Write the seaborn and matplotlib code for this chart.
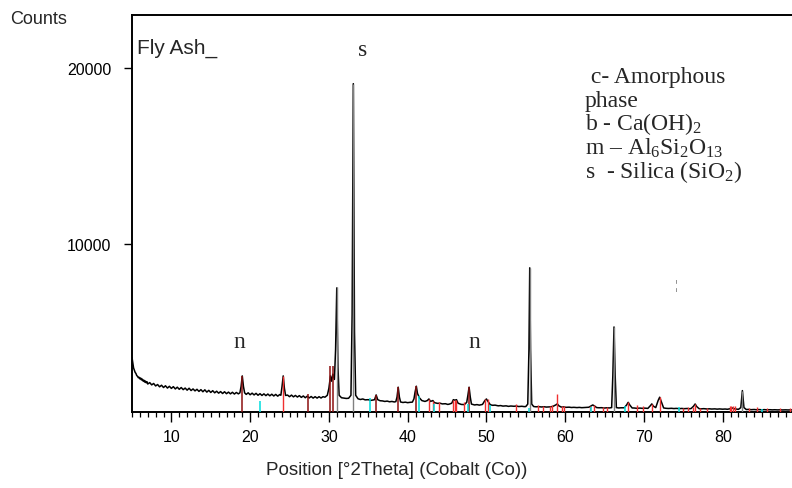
import matplotlib
matplotlib.use("Agg")
import matplotlib.pyplot as plt
import seaborn as sns
from matplotlib.ticker import MultipleLocator, FixedLocator

# ---------------- data ----------------
scan_2theta = [
    5.00, 5.10, 5.20, 5.30, 5.40, 5.50, 5.60, 5.70, 5.80, 5.90, 6.00, 6.10, 6.20, 6.30, 6.40,
    6.50, 6.60, 6.70, 6.80, 6.90,
    7.00, 7.25, 7.50, 7.75, 8.00, 8.25, 8.50, 8.75, 9.00, 9.25, 9.50, 9.75, 10.00, 10.25,
    10.50, 10.75, 11.00, 11.25, 11.50, 11.75, 12.00, 12.25, 12.50, 12.75, 13.00, 13.25,
    13.50, 13.75, 14.00, 14.25, 14.50, 14.75, 15.00, 15.25, 15.50, 15.75, 16.00, 16.25,
    16.50, 16.75, 17.00, 17.25, 17.50, 17.75, 18.00, 18.25, 18.50, 18.70, 18.85, 19.00,
    19.15, 19.30, 19.50, 19.75, 20.00, 20.25, 20.50, 20.75, 21.00, 21.25, 21.50, 21.75,
    22.00, 22.25, 22.50, 22.75, 23.00, 23.25, 23.50, 23.75, 23.90, 24.05, 24.20, 24.35,
    24.50, 24.75, 25.00, 25.25, 25.50, 25.75, 26.00, 26.25, 26.50, 26.75, 27.00, 27.25,
    27.50, 27.75, 28.00, 28.25, 28.50, 28.75, 29.00, 29.25, 29.50, 29.80, 30.00, 30.20,
    30.35, 30.50, 30.70, 30.85, 31.00, 31.15, 31.30, 31.60, 31.90, 32.20, 32.50, 32.80,
    32.95, 33.10, 33.25, 33.40, 33.70, 34.00, 34.30, 34.60, 35.00, 35.30, 35.60, 35.80,
    36.00, 36.20, 36.50, 36.80, 37.10, 37.40, 37.70, 38.00, 38.30, 38.50, 38.65, 38.80,
    38.95, 39.10, 39.40, 39.70, 40.00, 40.30, 40.60, 40.80, 40.95, 41.10, 41.25, 41.50,
    41.80, 42.20, 42.50, 42.70, 42.90, 43.20, 43.40, 43.80, 44.10, 44.40, 44.80, 45.10,
    45.30, 45.60, 45.80, 46.00, 46.20, 46.40, 46.80, 47.20, 47.50, 47.65, 47.80, 47.95,
    48.10, 48.50, 48.80, 49.10, 49.50, 49.80, 50.00, 50.20, 50.50, 50.80, 51.10, 51.50,
    51.80, 52.10, 52.50, 52.80, 53.10, 53.50, 53.80, 54.10, 54.50, 54.80, 55.00, 55.25,
    55.40, 55.50, 55.60, 55.75, 56.00, 56.30, 56.60, 57.00, 57.30, 57.60, 58.00, 58.40,
    58.80, 59.00, 59.20, 59.50, 59.80, 60.10, 60.50, 60.80, 61.10, 61.50, 61.80, 62.10,
    62.50, 63.00, 63.30, 63.50, 63.70, 64.00, 64.30, 64.60, 65.00, 65.30, 65.60, 65.90,
    66.05, 66.20, 66.35, 66.50, 66.80, 67.10, 67.50, 67.80, 68.00, 68.20, 68.50, 68.80,
    69.10, 69.50, 69.80, 70.10, 70.50, 70.80, 71.00, 71.20, 71.50, 71.80, 72.00, 72.20,
    72.50, 72.80, 73.10, 73.50, 73.80, 74.10, 74.50, 74.80, 75.10, 75.50, 75.80, 76.00,
    76.30, 76.50, 76.70, 77.00, 77.30, 77.60, 78.00, 78.30, 78.60, 79.00, 79.30, 79.60,
    80.00, 80.30, 80.60, 81.00, 81.20, 81.50, 82.00, 82.30, 82.50, 82.70, 83.00, 83.30,
    83.60, 84.00, 84.30, 84.60, 85.00, 85.30, 85.60, 86.00, 86.30, 86.60, 87.00, 87.30,
    87.60, 88.00, 88.30, 88.60, 89.00,
]
scan_counts = [
    3550, 3250, 2950, 2820, 2700, 2640, 2520, 2480, 2400, 2420, 2330, 2380, 2270, 2320, 2210,
    2260, 2150, 2210, 2110, 2170,
    2040, 2120, 1990, 2070, 1930, 2010, 1880, 1970, 1840, 1940, 1810, 1910, 1790, 1890,
    1760, 1860, 1740, 1840, 1720, 1810, 1690, 1800, 1670, 1760, 1650, 1740,
    1620, 1720, 1600, 1710, 1580, 1680, 1560, 1660, 1540, 1630, 1520, 1610,
    1500, 1600, 1490, 1580, 1480, 1570, 1470, 1560, 1480, 1540, 1900, 2500,
    1900, 1540, 1450, 1540, 1430, 1520, 1420, 1510, 1400, 1490, 1390, 1480,
    1380, 1470, 1370, 1460, 1360, 1450, 1350, 1440, 1400, 1900, 2500, 1800,
    1390, 1410, 1320, 1410, 1310, 1390, 1300, 1380, 1280, 1360, 1260, 1350,
    1250, 1330, 1240, 1320, 1240, 1320, 1245, 1320, 1290, 1400, 1800, 2500,
    2200, 2600, 2300, 4000, 7500, 3000, 1400, 1260, 1240, 1220, 1230, 1400,
    6000, 19100, 5000, 1400, 1200, 1160, 1190, 1140, 1150, 1110, 1130, 1150,
    1420, 1150, 1090, 1080, 1050, 1070, 1030, 1050, 1020, 1040, 1300, 1860,
    1300, 1020, 990, 1010, 980, 1000, 1010, 1200, 1600, 1915, 1500, 1250,
    1100, 1050, 1100, 1190, 1050, 1100, 980, 940, 950, 910, 920, 880,
    900, 950, 1150, 1120, 1150, 950, 880, 870, 1000, 1400, 1860, 1300,
    900, 850, 870, 840, 880, 1100, 1190, 1050, 860, 830, 840, 800,
    815, 785, 800, 770, 790, 775, 790, 760, 775, 755, 760, 900,
    4000, 8640, 4000, 900, 760, 745, 755, 735, 750, 730, 740, 760,
    850, 910, 800, 730, 740, 715, 725, 705, 715, 700, 712, 695,
    705, 720, 800, 850, 800, 700, 690, 695, 675, 690, 680, 700,
    2500, 5280, 2500, 700, 680, 690, 690, 850, 1000, 850, 680, 675,
    660, 672, 658, 670, 655, 800, 910, 780, 700, 1100, 1290, 1050,
    680, 660, 650, 660, 645, 655, 640, 652, 640, 650, 632, 650,
    780, 905, 760, 640, 630, 640, 622, 632, 618, 628, 612, 625,
    610, 620, 605, 640, 680, 630, 600, 700, 1665, 700, 590, 598,
    582, 592, 578, 588, 575, 585, 572, 580, 570, 578, 568, 575,
    566, 572, 565, 570, 566,
]

# reference pattern sticks (position, height)
darkred_pos = [19.0, 27.4, 30.2, 30.5, 36.0, 38.8, 41.1, 47.8]
darkred_h = [2500, 1480, 3085, 3085, 1440, 1860, 1915, 1860]

red_pos = [24.2, 42.7, 43.2, 44.0, 45.8, 46.0, 46.2, 47.1, 49.8, 50.2, 53.7, 56.6, 57.2,
           58.1, 58.3, 59.0, 59.6, 59.8, 63.2, 63.6, 64.8, 65.3, 68.0, 69.1, 69.9, 71.0,
           72.0, 75.0, 75.6, 76.2, 76.5, 77.1, 78.0, 80.9, 81.1, 81.3, 81.5, 83.3, 84.3,
           85.6, 87.3, 88.5]
red_h = [2500, 1190, 1100, 1000, 1150, 1150, 1150, 1000, 1190, 1190, 900, 850, 800,
         800, 820, 1480, 800, 780, 800, 850, 760, 760, 1000, 850, 800, 910,
         1290, 700, 720, 730, 905, 700, 650, 810, 810, 810, 810, 700, 720,
         650, 650, 680]

cyan_pos = [21.3, 35.2, 41.5, 43.4, 47.6, 50.5, 55.4, 63.3, 67.6, 74.5, 85.0]
cyan_h = [1100, 1250, 1380, 910, 900, 850, 700, 750, 800, 750, 620]

grey_pos = [31.0, 33.1, 55.5, 66.2, 82.5]
grey_h = [7560, 19100, 8640, 5280, 1665]

y_ticks = [10000, 20000]
x_ticks = [10, 20, 30, 40, 50, 60, 70, 80]

legend_lines = [
    " c- Amorphous",
    "phase",
    r"b - Ca(OH)$_2$",
    r"m – Al$_6$Si$_2$O$_{13}$",
    r"s  - Silica (SiO$_2$)",
]

# ---------------- styling ----------------
sns.set_style("ticks")
plt.rcParams["font.family"] = ["Liberation Sans", "DejaVu Sans"]
plt.rcParams["mathtext.fontset"] = "custom"
plt.rcParams["mathtext.rm"] = "Liberation Serif"
plt.rcParams["mathtext.default"] = "regular"

W, H = 792, 489
fig = plt.figure(figsize=(W / 100, H / 100), dpi=100)
ax = fig.add_axes([132 / W, 1 - 413 / H, 1 - 132 / W, (413 - 16) / H])

sns.lineplot(x=scan_2theta, y=scan_counts, ax=ax, color="black", lw=1.1,
             estimator=None, sort=False, zorder=2)

ymin = 450
ax.set_xlim(5, 88.8)
ax.set_ylim(ymin, 23000)

ax.vlines(darkred_pos, ymin, darkred_h, color="#8b1010", lw=1.1, zorder=3)
ax.vlines(red_pos, ymin, red_h, color="#f03030", lw=1.0, zorder=3)
ax.vlines(cyan_pos, ymin, cyan_h, color="#00dede", lw=1.1, zorder=3)
ax.vlines(grey_pos, ymin, grey_h, color="#808080", lw=1.0, zorder=3)

for s in ["left", "top", "bottom"]:
    ax.spines[s].set_linewidth(1.4)
    ax.spines[s].set_color("black")
ax.spines["right"].set_visible(False)

ax.yaxis.set_major_locator(FixedLocator(y_ticks))
ax.set_yticklabels([str(v) for v in y_ticks])
ax.xaxis.set_major_locator(FixedLocator(x_ticks))
ax.set_xticklabels([str(v) for v in x_ticks])
ax.xaxis.set_minor_locator(MultipleLocator(1))
ax.tick_params(axis="y", direction="out", length=6, width=1, pad=9, labelsize=11.5,
               colors="black")
ax.tick_params(axis="x", which="major", direction="out", length=7.5, width=1, pad=5,
               labelsize=11.5, colors="black")
ax.tick_params(axis="x", which="minor", direction="out", length=3.5, width=0.9,
               colors="black")
ax.set_xlabel("")
ax.set_ylabel("")

# ---------------- texts ----------------
fig.text(10 / W, 1 - 20 / H, "Counts", fontsize=13, va="center", ha="left")
fig.text(397 / W, 1 - 471 / H, "Position [°2Theta] (Cobalt (Co))", fontsize=13.5,
         va="center", ha="center")
fig.text(137 / W, 1 - 48 / H, "Fly Ash_", fontsize=15, va="center", ha="left")

serif = ["Liberation Serif", "DejaVu Serif"]
fig.text(363 / W, 1 - 50 / H, "s", fontsize=17, family=serif, va="center", ha="center")
fig.text(239 / W, 1 - 343 / H, "n", fontsize=17, family=serif, va="center", ha="center")
fig.text(474 / W, 1 - 343 / H, "n", fontsize=17, family=serif, va="center", ha="center")
fig.text(676 / W, 1 - 286 / H, "¦", fontsize=9, family=serif, va="center", ha="center",
         color="#555555")

line_y = [77, 101, 124, 148, 172]
for txt, yy in zip(legend_lines, line_y):
    fig.text(585 / W, 1 - yy / H, txt, fontsize=17, family=serif, va="center", ha="left")

fig.savefig("out.png", dpi=100)
